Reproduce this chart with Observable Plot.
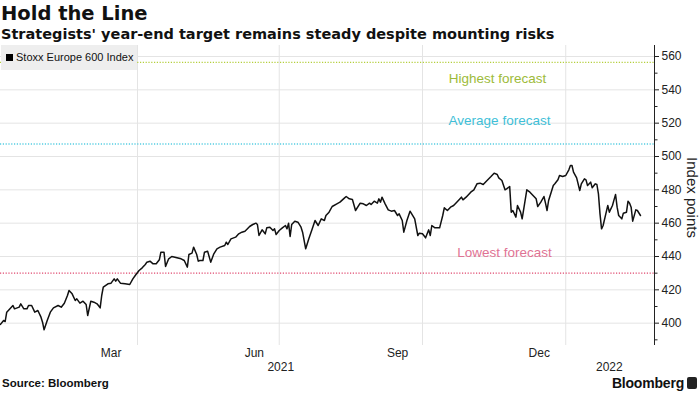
<!DOCTYPE html>
<html><head><meta charset="utf-8">
<script src="https://cdn.jsdelivr.net/npm/d3@7"></script>
<script src="https://cdn.jsdelivr.net/npm/@observablehq/plot@0.6"></script>
<style>
body{margin:0;background:#fff;font-family:"Liberation Sans",Arial,sans-serif;color:#111;}
#wrap{position:relative;width:700px;height:394px;overflow:hidden;}
#title{position:absolute;left:1px;top:2px;font-family:"DejaVu Sans",sans-serif;font-size:19.5px;font-weight:bold;white-space:nowrap;}
#sub{position:absolute;left:1px;top:26px;font-family:"DejaVu Sans",sans-serif;font-size:14.5px;font-weight:bold;white-space:nowrap;}
#chart{position:absolute;left:0;top:45px;}
#legend{position:absolute;left:1px;top:45px;width:136px;height:25px;background:#eeeeee;font-size:11px;line-height:25px;white-space:nowrap;}
#legend .sw{display:inline-block;width:7px;height:7px;background:#000;margin:0 3px 0 5px;vertical-align:-0px;}
#source{position:absolute;left:2px;top:377px;font-size:11.5px;font-weight:bold;}
#brand{position:absolute;right:16px;top:375px;font-size:14px;font-weight:bold;letter-spacing:-0.2px;}
#logo{position:absolute;right:3px;top:377px;width:10px;height:12px;background:#222;border-radius:2px;}
</style></head>
<body>
<div id="wrap">
  <div id="title">Hold the Line</div>
  <div id="sub">Strategists' year-end target remains steady despite mounting risks</div>
  <div id="chart"></div>
  <div id="legend"><span class="sw"></span>Stoxx Europe 600 Index</div>
  <div id="source">Source: Bloomberg</div>
  <div id="brand">Bloomberg</div>
  <div id="logo"></div>
</div>
<script>
const seriesName = "Stoxx Europe 600 Index";
const dates = [
"2021-01-03","2021-01-05","2021-01-06","2021-01-07","2021-01-11","2021-01-12","2021-01-15","2021-01-16","2021-01-18","2021-01-20",
"2021-01-21","2021-01-23","2021-01-25","2021-01-27","2021-01-29","2021-01-30","2021-01-31","2021-02-02","2021-02-04","2021-02-06",
"2021-02-09","2021-02-11","2021-02-13","2021-02-15","2021-02-16","2021-02-18","2021-02-20","2021-02-21","2021-02-23","2021-02-25",
"2021-02-27","2021-02-28","2021-03-02","2021-03-04","2021-03-06","2021-03-08","2021-03-09","2021-03-10","2021-03-13","2021-03-15",
"2021-03-17","2021-03-18","2021-03-19","2021-03-21","2021-03-24","2021-03-27","2021-03-29","2021-03-31","2021-04-02","2021-04-04",
"2021-04-06","2021-04-07","2021-04-09","2021-04-11","2021-04-13","2021-04-15","2021-04-16","2021-04-18","2021-04-19","2021-04-21",
"2021-04-23","2021-04-25","2021-04-29","2021-05-01","2021-05-03","2021-05-04","2021-05-06","2021-05-07","2021-05-09","2021-05-10",
"2021-05-11","2021-05-13","2021-05-14","2021-05-16","2021-05-18","2021-05-20","2021-05-22","2021-05-24","2021-05-27","2021-05-28",
"2021-05-29","2021-05-31","2021-06-03","2021-06-05","2021-06-07","2021-06-09","2021-06-12","2021-06-14","2021-06-16","2021-06-17",
"2021-06-18","2021-06-20","2021-06-22","2021-06-23","2021-06-25","2021-06-27","2021-06-28","2021-06-29","2021-07-01","2021-07-03",
"2021-07-05","2021-07-06","2021-07-07","2021-07-08","2021-07-09","2021-07-11","2021-07-13","2021-07-15","2021-07-16","2021-07-18",
"2021-07-20","2021-07-22","2021-07-24","2021-07-26","2021-07-28","2021-07-30","2021-07-31","2021-08-02","2021-08-04","2021-08-07",
"2021-08-09","2021-08-12","2021-08-13","2021-08-15","2021-08-17","2021-08-19","2021-08-22","2021-08-24","2021-08-26","2021-08-28",
"2021-08-29","2021-08-31","2021-09-02","2021-09-03","2021-09-04","2021-09-05","2021-09-07","2021-09-09","2021-09-11","2021-09-13",
"2021-09-15","2021-09-16","2021-09-18","2021-09-19","2021-09-21","2021-09-23","2021-09-26","2021-09-28","2021-09-29","2021-10-01",
"2021-10-03","2021-10-05","2021-10-06","2021-10-07","2021-10-09","2021-10-12","2021-10-14","2021-10-15","2021-10-17","2021-10-19",
"2021-10-21","2021-10-23","2021-10-26","2021-10-27","2021-10-29","2021-11-01","2021-11-03","2021-11-05","2021-11-07","2021-11-09",
"2021-11-11","2021-11-14","2021-11-16","2021-11-18","2021-11-19","2021-11-21","2021-11-23","2021-11-24","2021-11-26","2021-11-27",
"2021-11-28","2021-11-30","2021-12-01","2021-12-03","2021-12-04","2021-12-07","2021-12-09","2021-12-11","2021-12-13","2021-12-14",
"2021-12-16","2021-12-18","2021-12-19","2021-12-20","2021-12-21","2021-12-24","2021-12-25","2021-12-27","2021-12-28","2021-12-30",
"2022-01-01","2022-01-03","2022-01-04","2022-01-05","2022-01-06","2022-01-08","2022-01-10","2022-01-11","2022-01-13","2022-01-14",
"2022-01-15","2022-01-17","2022-01-18","2022-01-20","2022-01-21","2022-01-22","2022-01-23","2022-01-24","2022-01-25","2022-01-27",
"2022-01-28","2022-01-29","2022-01-31","2022-02-01","2022-02-02","2022-02-03","2022-02-04","2022-02-06","2022-02-07","2022-02-09",
"2022-02-10","2022-02-11","2022-02-12","2022-02-13","2022-02-15","2022-02-16","2022-02-18"
];
const values = [
399.3,401.6,401.0,406.6,410.6,408.6,409.6,411.6,408.6,408.6,
410.6,410.6,406.6,407.6,403.6,400.6,396.0,401.6,406.6,409.2,
410.6,409.6,412.0,416.6,419.6,417.6,413.6,414.6,412.0,413.2,
411.2,404.6,413.2,412.6,411.6,409.2,416.6,421.6,423.6,424.0,
426.6,425.2,426.6,424.0,423.6,423.2,426.6,429.2,431.6,433.2,
435.2,436.6,437.2,435.6,435.6,438.0,442.6,442.6,434.0,438.6,
440.0,439.6,438.6,437.6,433.6,441.2,442.0,445.6,441.2,437.2,
437.6,437.6,442.6,443.2,436.6,441.6,444.6,445.6,446.6,448.6,
447.2,450.6,451.6,453.6,454.6,455.2,458.0,459.2,460.0,459.2,
452.6,456.0,453.6,457.2,457.6,455.6,456.6,453.2,455.6,457.2,
458.6,456.6,460.0,452.0,459.2,461.2,460.6,457.6,454.6,444.6,
450.6,456.0,461.6,458.6,462.6,461.6,464.6,466.6,470.0,471.6,
472.6,475.2,476.0,474.6,474.2,467.6,472.0,471.6,470.6,472.0,
471.2,473.2,472.0,474.6,472.6,475.6,471.6,468.0,467.2,467.6,
464.6,465.6,461.6,454.6,461.6,467.2,462.6,452.6,454.0,453.6,
451.2,456.0,452.6,458.6,457.2,457.2,464.6,469.2,467.6,469.6,
470.6,472.6,475.6,474.0,475.6,478.6,480.0,483.6,484.0,483.2,
485.2,488.0,490.0,489.2,487.2,485.6,480.0,480.6,482.0,466.6,
467.6,463.6,470.6,466.6,462.6,480.0,478.6,476.6,474.6,470.0,
472.6,476.0,472.0,467.6,473.6,482.6,483.6,486.0,488.6,488.0,
488.6,492.0,494.6,494.6,490.6,487.2,479.6,483.6,486.6,486.0,
482.6,484.6,481.2,483.6,483.2,477.6,465.6,456.6,458.6,466.6,
470.6,466.6,470.6,474.0,477.2,469.6,464.6,462.6,466.0,466.6,
473.2,472.0,469.6,461.2,468.0,467.6,464.6
];
const forecastLabels = ["Highest forecast","Average forecast","Lowest forecast"];
const forecastValues = [556.5, 507.5, 430];
const yTicks = [400,420,440,460,480,500,520,540,560];
const yMinorTicks = [390,410,430,450,470,490,510,530,550];
const gridDates = ["2021-04-01","2021-07-01","2021-10-01","2022-01-01"];
const monthLabels = ["Mar","Jun","Sep","Dec"];
const monthDates = ["2021-03-15","2021-06-15","2021-09-15","2021-12-15"];
const yearLabels = ["2021","2022"];
const yearDates = ["2021-07-02","2022-01-29"];
const xDomain = ["2021-01-03","2022-02-27"];
const yDomain = [386.6, 566.6];

const P = s => new Date(s + "T00:00:00Z");
const data = dates.map((d,i)=>({date:P(d), value:values[i]}));
const fcColors = ["#b4cf3c","#56cde2","#e0486e"];
const fcText = ["#9dbb3a","#3fbfd8","#df7394"];
const fcDx = [170, 172, 177];
const fcDy = [16, -23, -20];

const font = "Liberation Sans, Arial, sans-serif";
const chart = Plot.plot({
  width:700, height:335,
  marginTop:0, marginBottom:35, marginLeft:0, marginRight:46,
  style:{fontFamily:font, fontSize:"12px", color:"#222", background:"transparent", overflow:"visible"},
  x:{type:"utc", domain:xDomain.map(P), axis:null},
  y:{domain:yDomain, axis:null},
  marks:[
    Plot.ruleY(yTicks, {stroke:"#e4e4e4", strokeWidth:1}),
    Plot.ruleX(gridDates.map(P), {stroke:"#e4e4e4", strokeWidth:1}),
    ...forecastValues.map((v,i)=>Plot.ruleY([v], {stroke:fcColors[i], strokeWidth:1.3, strokeDasharray:"1.2,1.6"})),
    ...forecastValues.map((v,i)=>Plot.text([forecastLabels[i]], {y:()=>v, frameAnchor:"middle", dx:fcDx[i], dy:fcDy[i], text:d=>d, fill:fcText[i], fontSize:13.5})),
    Plot.line(data, {x:"date", y:"value", stroke:"#111", strokeWidth:1.5, strokeLinejoin:"round"}),
    Plot.ruleX([P(xDomain[1])], {stroke:"#222", strokeWidth:1}),
    Plot.axisY(yTicks, {anchor:"right", label:null, tickSize:4, tickPadding:3, fontSize:12, color:"#222"}),
    Plot.axisY(yMinorTicks, {anchor:"right", label:null, tickSize:2.5, tickFormat:()=>"", color:"#222"}),
    Plot.text(monthLabels, {x:(d,i)=>P(monthDates[i]), frameAnchor:"bottom", dy:11, text:d=>d, fontSize:12, fill:"#222"}),
    Plot.text(yearLabels, {x:(d,i)=>P(yearDates[i]), frameAnchor:"bottom", dy:25.5, text:d=>d, fontSize:12, fill:"#222"}),
    Plot.text(["Index points"], {frameAnchor:"right", textAnchor:"middle", dx:37, dy:2, rotate:90, text:d=>d, fontSize:15, fill:"#222"})
  ]
});
document.getElementById("chart").appendChild(chart);
</script>
</body></html>
